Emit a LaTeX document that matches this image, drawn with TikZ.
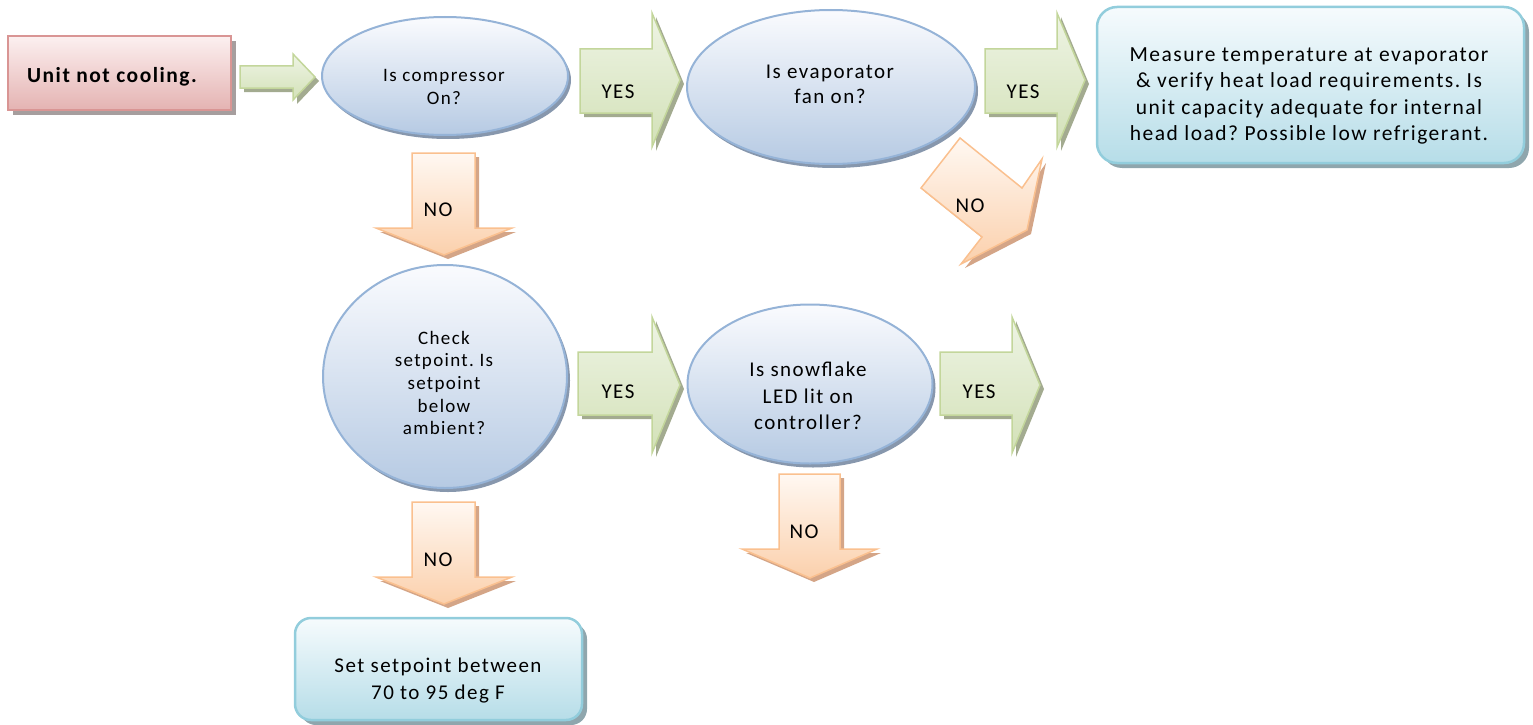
\documentclass[tikz,border=0pt]{standalone}
\usepackage{fontspec}
\setmainfont{Carlito}[LetterSpace=7]
\usetikzlibrary{shapes.geometric,shadows}
\definecolor{pinkedge}{HTML}{D99594}
\definecolor{pinktop}{HTML}{FCF0F0}
\definecolor{pinkbot}{HTML}{E4B3B2}
\definecolor{pinkshadow}{HTML}{A69E9E}
\definecolor{blueedge}{HTML}{95B3D7}
\definecolor{bluetop}{HTML}{FAFBFE}
\definecolor{bluebot}{HTML}{B6CAE3}
\definecolor{blueshadow}{HTML}{8797AD}
\definecolor{cyanedge}{HTML}{92CDDC}
\definecolor{cyantop}{HTML}{F6FBFD}
\definecolor{cyanbot}{HTML}{B6DDE8}
\definecolor{cyanshadow}{HTML}{8FA6AD}
\definecolor{greenedge}{HTML}{C3D69B}
\definecolor{greentop}{HTML}{EEF4E4}
\definecolor{greenbot}{HTML}{D3E1B8}
\definecolor{greenshadow}{HTML}{A3AB90}
\definecolor{orangeedge}{HTML}{FAC08F}
\definecolor{orangetop}{HTML}{FFF8F2}
\definecolor{orangebot}{HTML}{FBD0AC}
\definecolor{orangeshadow}{HTML}{D4A587}
\frenchspacing
\begin{document}
\begin{tikzpicture}[x=1pt,y=-1pt,
  pinkbox/.style={rectangle, draw=pinkedge, line width=2pt, top color=pinktop, bottom color=pinkbot, inner sep=0pt,
    drop shadow={shadow xshift=5pt, shadow yshift=-5pt, fill=pinkshadow, opacity=1}},
  bluell/.style={ellipse, draw=blueedge, line width=2pt, top color=bluetop, bottom color=bluebot, inner sep=0pt,
    drop shadow={shadow xshift=3pt, shadow yshift=-4pt, fill=blueshadow, opacity=1}},
  cyanbox/.style={rectangle, rounded corners=20pt, draw=cyanedge, line width=2.5pt, top color=cyantop, bottom color=cyanbot, inner sep=0pt,
    drop shadow={shadow xshift=5pt, shadow yshift=-5pt, fill=cyanshadow, opacity=1}},
  greenarr/.style={draw=greenedge, line width=1.5pt, line join=miter, top color=greentop, bottom color=greenbot,
    drop shadow={shadow xshift=4pt, shadow yshift=-4pt, fill=greenshadow, opacity=1}},
  orangearr/.style={draw=orangeedge, line width=1.5pt, line join=miter, top color=orangetop, bottom color=orangebot,
    drop shadow={shadow xshift=4pt, shadow yshift=-4pt, fill=orangeshadow, opacity=1}},
  etxt/.style={align=center, inner sep=0pt, text=black, font=\fontsize{19}{23}\selectfont},
  btxt/.style={align=center, inner sep=0pt, text=black, font=\fontsize{21}{26.3}\selectfont},
  lbl/.style={inner sep=0pt, text=black, font=\fontsize{21}{24}\selectfont}
]
\useasboundingbox (0,0) rectangle (1533,725);

% nodes (shapes)
\node[pinkbox, minimum width=223pt, minimum height=74pt] (start) at (119,73) {};
\node[btxt, font=\bfseries\fontsize{21.5}{24}\selectfont] (startT) at (112,77) {Unit not cooling.};

\node[bluell, minimum width=246pt, minimum height=118pt] (comp) at (445,76) {};
\node[etxt] (compT) at (444,87) {Is compressor\\On?};

\node[bluell, minimum width=288pt, minimum height=154pt] (evap) at (831,87) {};
\node[etxt, font=\fontsize{21}{25}\selectfont] (evapT) at (830,84) {Is evaporator\\fan on?};

\node[cyanbox, minimum width=427pt, minimum height=156pt] (meas) at (1310.5,85) {};
\node[btxt, font=\fontsize{21.5}{26.5}\selectfont] (measT) at (1309,96) {Measure temperature at evaporator\\\& verify heat load requirements. Is\\unit capacity adequate for internal\\head load? Possible low refrigerant.};

\node[bluell, minimum width=244pt, minimum height=223pt] (setp) at (445,376.5) {};
\node[etxt, font=\fontsize{19}{22.6}\selectfont] (setpT) at (444,383) {Check\\setpoint. Is\\setpoint\\below\\ambient?};

\node[bluell, minimum width=245pt, minimum height=159pt] (snow) at (810,384) {};
\node[etxt, font=\fontsize{21}{26.7}\selectfont] (snowT) at (808,396) {Is snowflake\\LED lit on\\controller?};

\node[cyanbox, rounded corners=16pt, minimum width=287pt, minimum height=102pt] (setb) at (438.5,669) {};
\node[btxt, font=\fontsize{21}{27}\selectfont] (setbT) at (438,681) {Set setpoint between\\70 to 95 deg F};

% block arrows
\path[greenarr] (240,66) -- (293,66) -- (293,54) -- (315,77) -- (293,100) -- (293,88) -- (240,88) -- cycle;

\path[greenarr] (580,49) -- (652,49) -- (652,13) -- (680,80) -- (652,147) -- (652,113) -- (580,113) -- cycle;
\node[lbl] (y1) at (618,92) {YES};

\path[greenarr] (985,49) -- (1057,49) -- (1057,13) -- (1085,80) -- (1057,147) -- (1057,113) -- (985,113) -- cycle;
\node[lbl] (y2) at (1023,92) {YES};

\path[greenarr] (578,352) -- (652,352) -- (652,317) -- (680,385) -- (652,453) -- (652,415) -- (578,415) -- cycle;
\node[lbl] (y3) at (618,392) {YES};

\path[greenarr] (940,352) -- (1012,352) -- (1012,317) -- (1040,385) -- (1012,453) -- (1012,415) -- (940,415) -- cycle;
\node[lbl] (y4) at (979,392) {YES};

\path[orangearr] (412,153) -- (475,153) -- (475,228) -- (512,228) -- (444,255) -- (376,228) -- (412,228) -- cycle;
\node[lbl] (n1) at (438,209.5) {NO};

\path[orangearr] (412,502) -- (475,502) -- (475,577) -- (512,577) -- (444,604) -- (376,577) -- (412,577) -- cycle;
\node[lbl] (n2) at (438,559.5) {NO};

\path[orangearr] (779,474) -- (840,474) -- (840,549) -- (877,549) -- (810,578) -- (742,549) -- (779,549) -- cycle;
\node[lbl] (n3) at (804,531.5) {NO};

\path[orangearr] (960,138) -- (1022,188) -- (1042,159) -- (1027,230) -- (961,264) -- (982,237) -- (921,188) -- cycle;
\node[lbl] (n4) at (970,205.5) {NO};
\end{tikzpicture}
\end{document}
